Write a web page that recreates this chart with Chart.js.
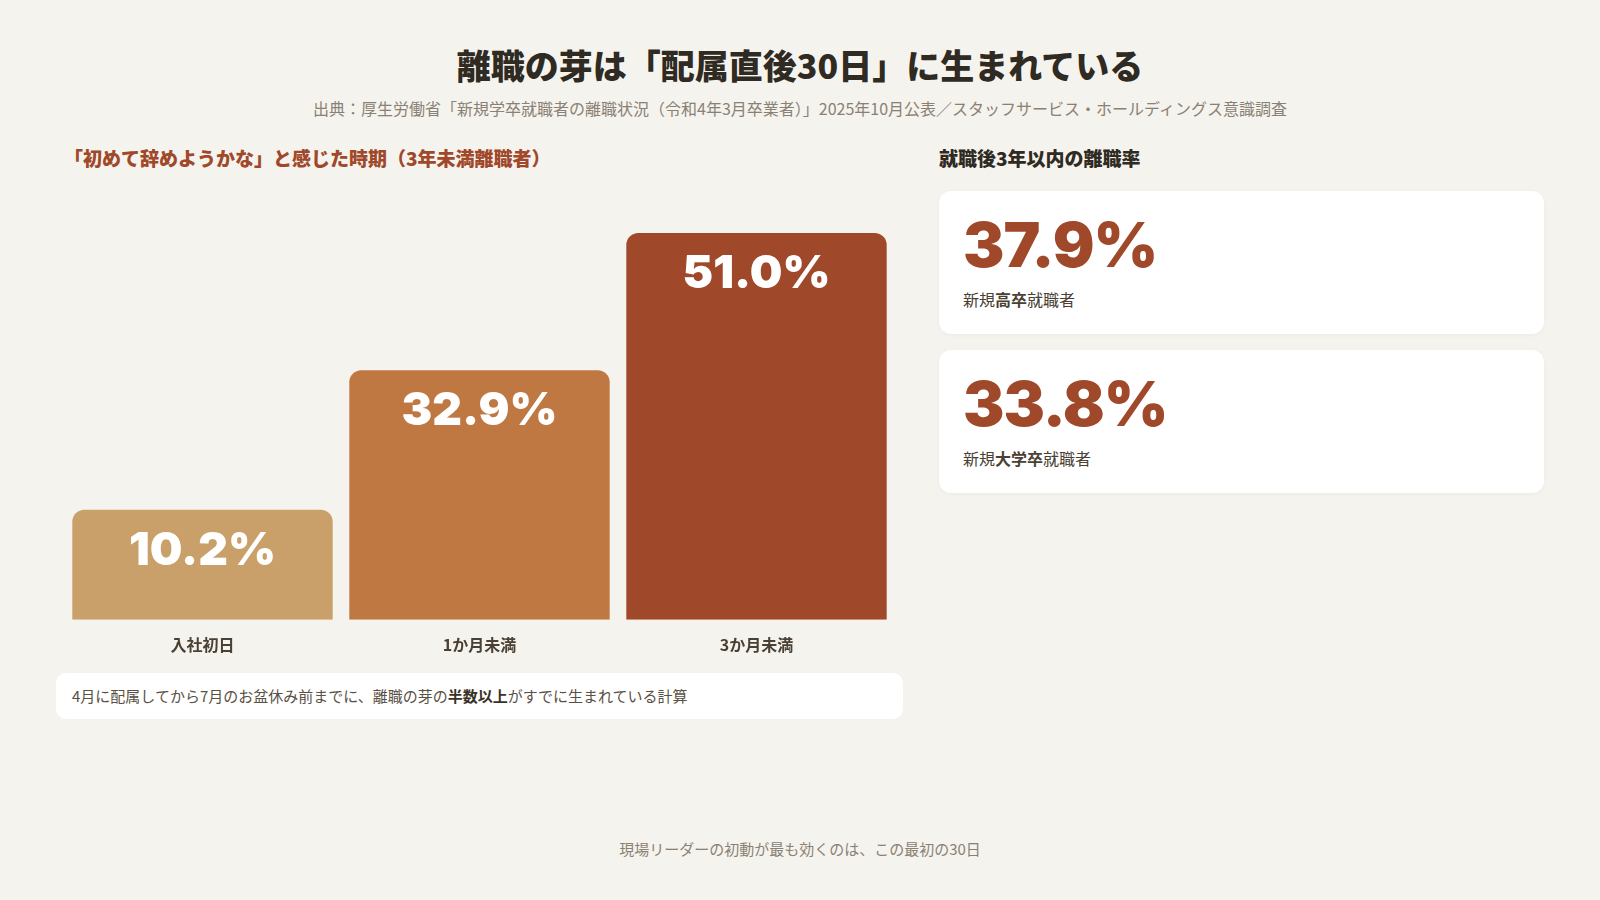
<!DOCTYPE html>
<html lang="ja">
<head>
<meta charset="utf-8">
<script src="https://cdn.jsdelivr.net/npm/chart.js@4"></script>
<style>
  body { margin: 0; width: 1600px; height: 900px; background: #f5f3ee; font-family: "Noto Sans CJK JP", sans-serif; position: relative; overflow: hidden; color: #3a3226; }
  .abs { position: absolute; }
  h1 { margin: 0; position: absolute; top: 40px; width: 100%; text-align: center; font-size: 34px; font-weight: 900; color: #2f2a22; }
  .sub { top: 96px; width: 100%; text-align: center; font-size: 16px; color: #8a8174; }
  .lh { left: 64px; top: 144px; font-size: 19px; font-weight: 800; color: #a0482a; }
  .rh { left: 939px; top: 144px; font-size: 19px; font-weight: 800; color: #2f2a22; }
  .note { left: 56px; top: 673px; width: 847px; height: 46px; background: #fff; border-radius: 10px; box-sizing: border-box; padding: 0 16px; line-height: 46px; font-size: 15px; color: #5a5044; }
  .card { left: 939px; width: 605px; height: 143px; background: #fff; border-radius: 12px; box-shadow: 0 1px 4px rgba(0,0,0,0.04); }
  .card .num { position: absolute; left: 24px; top: 16px; font-family: Inter, sans-serif; font-size: 62px; font-weight: 900; color: #a0482a; letter-spacing: -1px; }
  .card .lab { position: absolute; left: 24px; top: 96px; font-size: 16px; color: #4a4034; }
  .foot { top: 838px; width: 100%; text-align: center; font-size: 15px; color: #8a8174; }
</style>
</head>
<body>
<h1>離職の芽は「配属直後30日」に生まれている</h1>
<div class="abs sub">出典：厚生労働省「新規学卒就職者の離職状況（令和4年3月卒業者）」2025年10月公表／スタッフサービス・ホールディングス意識調査</div>
<div class="abs lh">「初めて辞めようかな」と感じた時期（3年未満離職者）</div>
<div class="abs rh">就職後3年以内の離職率</div>
<div class="abs" style="left:64px;top:233px;width:831px;height:430px"><canvas id="c"></canvas></div>
<div class="abs note">4月に配属してから7月のお盆休み前までに、離職の芽の<b style="color:#3a3226">半数以上</b>がすでに生まれている計算</div>
<div class="abs card" style="top:191px"><div class="num" id="n0"></div><div class="lab">新規<b>高卒</b>就職者</div></div>
<div class="abs card" style="top:350px"><div class="num" id="n1"></div><div class="lab">新規<b>大学卒</b>就職者</div></div>
<div class="abs foot">現場リーダーの初動が最も効くのは、この最初の30日</div>
<script>
'use strict';

const categories = ['入社初日', '1か月未満', '3か月未満'];
const values     = [10.2, 32.9, 51.0];
const barColors  = ['#c9a06a', '#c07843', '#a0492a'];
const rateLabels = ['新規高卒就職者', '新規大学卒就職者'];
const rates      = [37.9, 33.8];

rates.forEach((r, i) => { document.getElementById('n' + i).textContent = r.toFixed(1) + '%'; });

// draw value text near the top of each bar
const valueLabels = {
  id: 'valueLabels',
  afterDatasetsDraw(chart) {
    const { ctx } = chart;
    const meta = chart.getDatasetMeta(0);
    ctx.save();
    ctx.fillStyle = '#fff';
    ctx.font = '900 46px Inter, sans-serif';
    ctx.textAlign = 'center';
    ctx.textBaseline = 'top';
    meta.data.forEach((bar, i) => {
      ctx.fillText(values[i].toFixed(1) + '%', bar.x, bar.y + 18);
    });
    ctx.restore();
  }
};

new Chart(document.getElementById('c'), {
  type: 'bar',
  data: {
    labels: categories,
    datasets: [{
      data: values,
      backgroundColor: barColors,
      borderRadius: { topLeft: 12, topRight: 12 },
      borderSkipped: 'bottom',
      minBarLength: 110,
      barPercentage: 0.94,
      categoryPercentage: 1
    }]
  },
  options: {
    responsive: true,
    maintainAspectRatio: false,
    animation: false,
    layout: { padding: 0 },
    plugins: { legend: { display: false }, tooltip: { enabled: false } },
    scales: {
      x: {
        grid: { display: false },
        border: { display: false },
        ticks: { color: '#4a4034', font: { family: 'Noto Sans CJK JP', size: 16, weight: 'bold' }, padding: 8 }
      },
      y: { display: false, min: 0, max: 51 }
    }
  },
  plugins: [valueLabels]
});
</script>
</body>
</html>
